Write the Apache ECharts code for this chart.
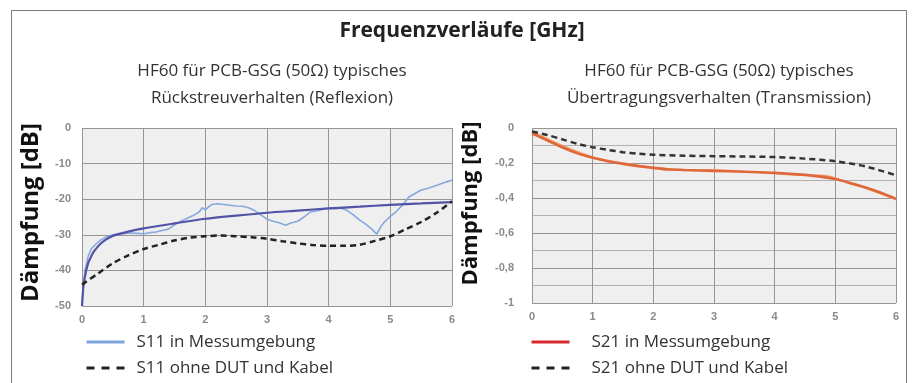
<!DOCTYPE html>
<html>
<head>
<meta charset="utf-8">
<script src="https://cdn.jsdelivr.net/npm/echarts@6/dist/echarts.min.js"></script>
<style>
html,body{margin:0;padding:0;background:#fff;}
#chart{width:914px;height:383px;}
</style>
</head>
<body>
<div id="chart"></div>
<script>
// ---------- data ----------
const mainTitle = 'Frequenzverläufe [GHz]';
const leftTitle = 'HF60 für PCB-GSG (50Ω) typisches\nRückstreuverhalten (Reflexion)';
const rightTitle = 'HF60 für PCB-GSG (50Ω) typisches\nÜbertragungsverhalten (Transmission)';
const yAxisTitle = 'Dämpfung [dB]';

const s11MeasFreq = [0,0.02,0.05,0.1,0.15,0.2,0.3,0.4,0.5,0.6,0.7,0.8,0.9,1.0,1.1,1.2,1.3,1.4,1.5,1.6,1.7,1.8,1.9,1.95,2.0,2.05,2.1,2.2,2.3,2.4,2.5,2.6,2.7,2.8,2.9,3.0,3.1,3.2,3.3,3.4,3.5,3.6,3.7,3.8,3.9,4.0,4.1,4.2,4.3,4.4,4.5,4.6,4.7,4.78,4.85,4.9,5.0,5.1,5.2,5.3,5.4,5.5,5.6,5.7,5.8,5.9,6.0];
const s11MeasDb   = [-50,-45,-40,-36,-34,-33,-31.5,-30.6,-30.0,-29.8,-29.6,-29.5,-29.6,-29.7,-29.4,-29.2,-28.8,-28.4,-27.2,-26.2,-25.4,-24.6,-23.6,-22.4,-23.0,-22.2,-21.5,-21.3,-21.5,-21.7,-21.9,-22.0,-22.4,-23.2,-24.4,-25.6,-26.2,-26.6,-27.3,-26.6,-26.2,-25.0,-23.6,-23.3,-22.9,-22.5,-22.7,-22.5,-23.2,-24.4,-25.8,-27.0,-28.4,-29.8,-27.6,-26.5,-24.8,-23.4,-21.6,-19.4,-18.4,-17.4,-17.0,-16.4,-15.8,-15.2,-14.7];

const s11FitFreq = [0,0.02,0.05,0.1,0.15,0.2,0.3,0.4,0.5,0.75,1.0,1.5,2.0,2.5,3.0,3.5,4.0,4.5,5.0,5.5,6.0];
const s11FitDb   = [-50,-45,-41.5,-38,-36,-34.5,-32.5,-31.2,-30.3,-29.1,-28.2,-26.8,-25.5,-24.6,-23.8,-23.2,-22.6,-22.1,-21.6,-21.2,-20.8];

const s11RefFreq = [0,0.25,0.5,0.75,1.0,1.25,1.5,1.75,2.0,2.25,2.5,2.75,3.0,3.25,3.5,3.75,4.0,4.25,4.5,4.75,5.0,5.25,5.5,5.75,6.0];
const s11RefDb   = [-44,-41,-38,-35.8,-34,-32.8,-31.6,-30.8,-30.4,-30.2,-30.4,-30.7,-31.1,-31.8,-32.4,-32.9,-33.1,-33.1,-32.8,-31.7,-30.4,-28.4,-26.4,-23.8,-20.6];

const s21MeasFreq = [0,0.25,0.5,0.75,1.0,1.25,1.5,1.75,2.0,2.25,2.5,3.0,3.5,4.0,4.5,4.75,5.0,5.25,5.5,5.75,6.0];
const s21MeasDb   = [-0.03,-0.07,-0.11,-0.145,-0.17,-0.19,-0.205,-0.218,-0.228,-0.236,-0.24,-0.245,-0.25,-0.256,-0.268,-0.278,-0.292,-0.315,-0.34,-0.37,-0.405];

const s21Meas2Freq = [0,0.5,1.0,1.5,2.0,2.2,2.5,3.0,3.5,4.0,4.5,4.8,5.0,5.25,5.5,6.0];
const s21Meas2Db   = [-0.02,-0.1,-0.165,-0.2,-0.225,-0.24,-0.238,-0.24,-0.248,-0.262,-0.27,-0.27,-0.285,-0.32,-0.345,-0.41];

const s21RefFreq = [0,0.25,0.5,0.75,1.0,1.25,1.5,1.75,2.0,2.5,3.0,3.5,4.0,4.5,5.0,5.5,6.0];
const s21RefDb   = [-0.02,-0.04,-0.065,-0.09,-0.11,-0.125,-0.138,-0.147,-0.153,-0.158,-0.161,-0.163,-0.166,-0.175,-0.19,-0.22,-0.27];

const legendLeft  = ['S11 in Messumgebung','S11 ohne DUT und Kabel'];
const legendRight = ['S21 in Messumgebung','S21 ohne DUT und Kabel'];

const zip = (a,b) => a.map((v,i) => [v,b[i]]);

// ---------- styles ----------
const txtFont = "'Open Sans', 'Noto Sans', sans-serif";
const tickFont = "'Liberation Sans', Arial, sans-serif";
const gridLine = '#9a9494';
const plotBg = '#efefef';

function xAxisCfg(gi){
  return {
    type:'value', gridIndex:gi, min:0, max:6, interval:1,
    axisLine:{show:false}, axisTick:{show:false},
    splitLine:{show:true, lineStyle:{color:gridLine, width:1}},
    axisLabel:{color:'#8a8a8a', fontFamily:tickFont, fontWeight:'bold', fontSize:11, margin:8}
  };
}
function legendItem(name, color, dash){
  return {name:name, itemStyle:{color:color, opacity:0, borderWidth:0},
          lineStyle:{color:color, width:3, type:dash ? [8,7] : 'solid', opacity:1}};
}

const chart = echarts.init(document.getElementById('chart'), null, {renderer:'canvas'});
const option = {
  backgroundColor:'#ffffff',
  animation:false,
  title:[
    {text:mainTitle, left:457, top:16, textAlign:'center',
     textStyle:{fontFamily:txtFont, fontWeight:'bold', fontSize:21, color:'#222'}},
    {text:leftTitle, left:267, top:53, textAlign:'center',
     textStyle:{fontFamily:txtFont, fontWeight:'normal', fontSize:17, lineHeight:27, color:'#333'}},
    {text:rightTitle, left:714, top:53, textAlign:'center',
     textStyle:{fontFamily:txtFont, fontWeight:'normal', fontSize:17, lineHeight:27, color:'#333'}}
  ],
  graphic:[
    {type:'rect', shape:{x:11.5, y:10.5, width:895, height:400}, style:{fill:null, stroke:'#7a7a7a', lineWidth:1}, silent:true}
  ],
  legend:[
    {orient:'vertical', left:85, top:332, padding:0, itemGap:6, itemWidth:38, itemHeight:14,
     textStyle:{fontFamily:txtFont, fontSize:17, color:'#333', padding:[0,0,0,7], lineHeight:20},
     data:[legendItem(legendLeft[0], '#7ea6dc', false), legendItem(legendLeft[1], '#222', true)]},
    {orient:'vertical', left:530, top:332, padding:0, itemGap:6, itemWidth:38, itemHeight:14,
     textStyle:{fontFamily:txtFont, fontSize:17, color:'#333', padding:[0,0,0,17], lineHeight:20},
     data:[legendItem(legendRight[0], '#d7282f', false), legendItem(legendRight[1], '#222', true)]}
  ],
  grid:[
    {left:82, right:462, top:128, bottom:77, show:true, backgroundColor:plotBg, borderWidth:0},
    {left:532, right:18, top:128, bottom:80, show:true, backgroundColor:plotBg, borderWidth:0}
  ],
  xAxis:[xAxisCfg(0), xAxisCfg(1)],
  yAxis:[
    {type:'value', gridIndex:0, min:-50, max:0, interval:10,
     axisLine:{show:false}, axisTick:{show:false},
     splitLine:{show:true, lineStyle:{color:gridLine, width:1}},
     axisLabel:{color:'#8a8a8a', fontFamily:tickFont, fontWeight:'bold', fontSize:11, margin:11},
     name:yAxisTitle, nameLocation:'middle', nameRotate:90, nameGap:39,
     nameTextStyle:{fontFamily:txtFont, fontWeight:'bold', fontSize:24, color:'#111', padding:[0,0,0,9]}},
    {type:'value', gridIndex:1, min:-1, max:0, interval:0.2,
     axisLine:{show:false}, axisTick:{show:false},
     splitLine:{show:true, lineStyle:{color:gridLine, width:1}},
     minorTick:{show:false, splitNumber:2},
     minorSplitLine:{show:true, lineStyle:{color:'#b4b0b0', width:1}},
     axisLabel:{color:'#8a8a8a', fontFamily:tickFont, fontWeight:'bold', fontSize:11, margin:18,
       formatter:v => { const r = Math.round(v*10)/10; return r === 0 ? '0' : String(r).replace('.', ','); }},
     name:yAxisTitle, nameLocation:'middle', nameRotate:90, nameGap:50,
     nameTextStyle:{fontFamily:txtFont, fontWeight:'bold', fontSize:22, color:'#111', padding:[0,0,0,24]}}
  ],
  series:[
    {name:legendLeft[0], type:'line', xAxisIndex:0, yAxisIndex:0, data:zip(s11MeasFreq, s11MeasDb),
     symbol:'none', lineStyle:{color:'#86a8dc', width:1.6}, itemStyle:{color:'#86a8dc'}, z:2},
    {name:'S11 Trend', type:'line', xAxisIndex:0, yAxisIndex:0, data:zip(s11FitFreq, s11FitDb),
     symbol:'none', smooth:0.3, lineStyle:{color:'#5253a6', width:2.2}, itemStyle:{color:'#5253a6'}, z:3},
    {name:legendLeft[1], type:'line', xAxisIndex:0, yAxisIndex:0, data:zip(s11RefFreq, s11RefDb),
     symbol:'none', smooth:0.3, lineStyle:{color:'#222', width:2.5, type:[6,4]}, itemStyle:{color:'#222'}, z:4},
    {name:'S21 Messung 2', type:'line', xAxisIndex:1, yAxisIndex:1, data:zip(s21Meas2Freq, s21Meas2Db),
     symbol:'none', smooth:0.3, lineStyle:{color:'#f2a16e', width:1.4}, itemStyle:{color:'#f2a16e'}, z:2},
    {name:legendRight[0], type:'line', xAxisIndex:1, yAxisIndex:1, data:zip(s21MeasFreq, s21MeasDb),
     symbol:'none', smooth:0.3, lineStyle:{color:'#e0673a', width:2.6}, itemStyle:{color:'#e0673a'}, z:3},
    {name:legendRight[1], type:'line', xAxisIndex:1, yAxisIndex:1, data:zip(s21RefFreq, s21RefDb),
     symbol:'none', smooth:0.3, lineStyle:{color:'#333', width:2.5, type:[6,4]}, itemStyle:{color:'#333'}, z:4}
  ]
};
chart.setOption(option);
</script>
</body>
</html>
